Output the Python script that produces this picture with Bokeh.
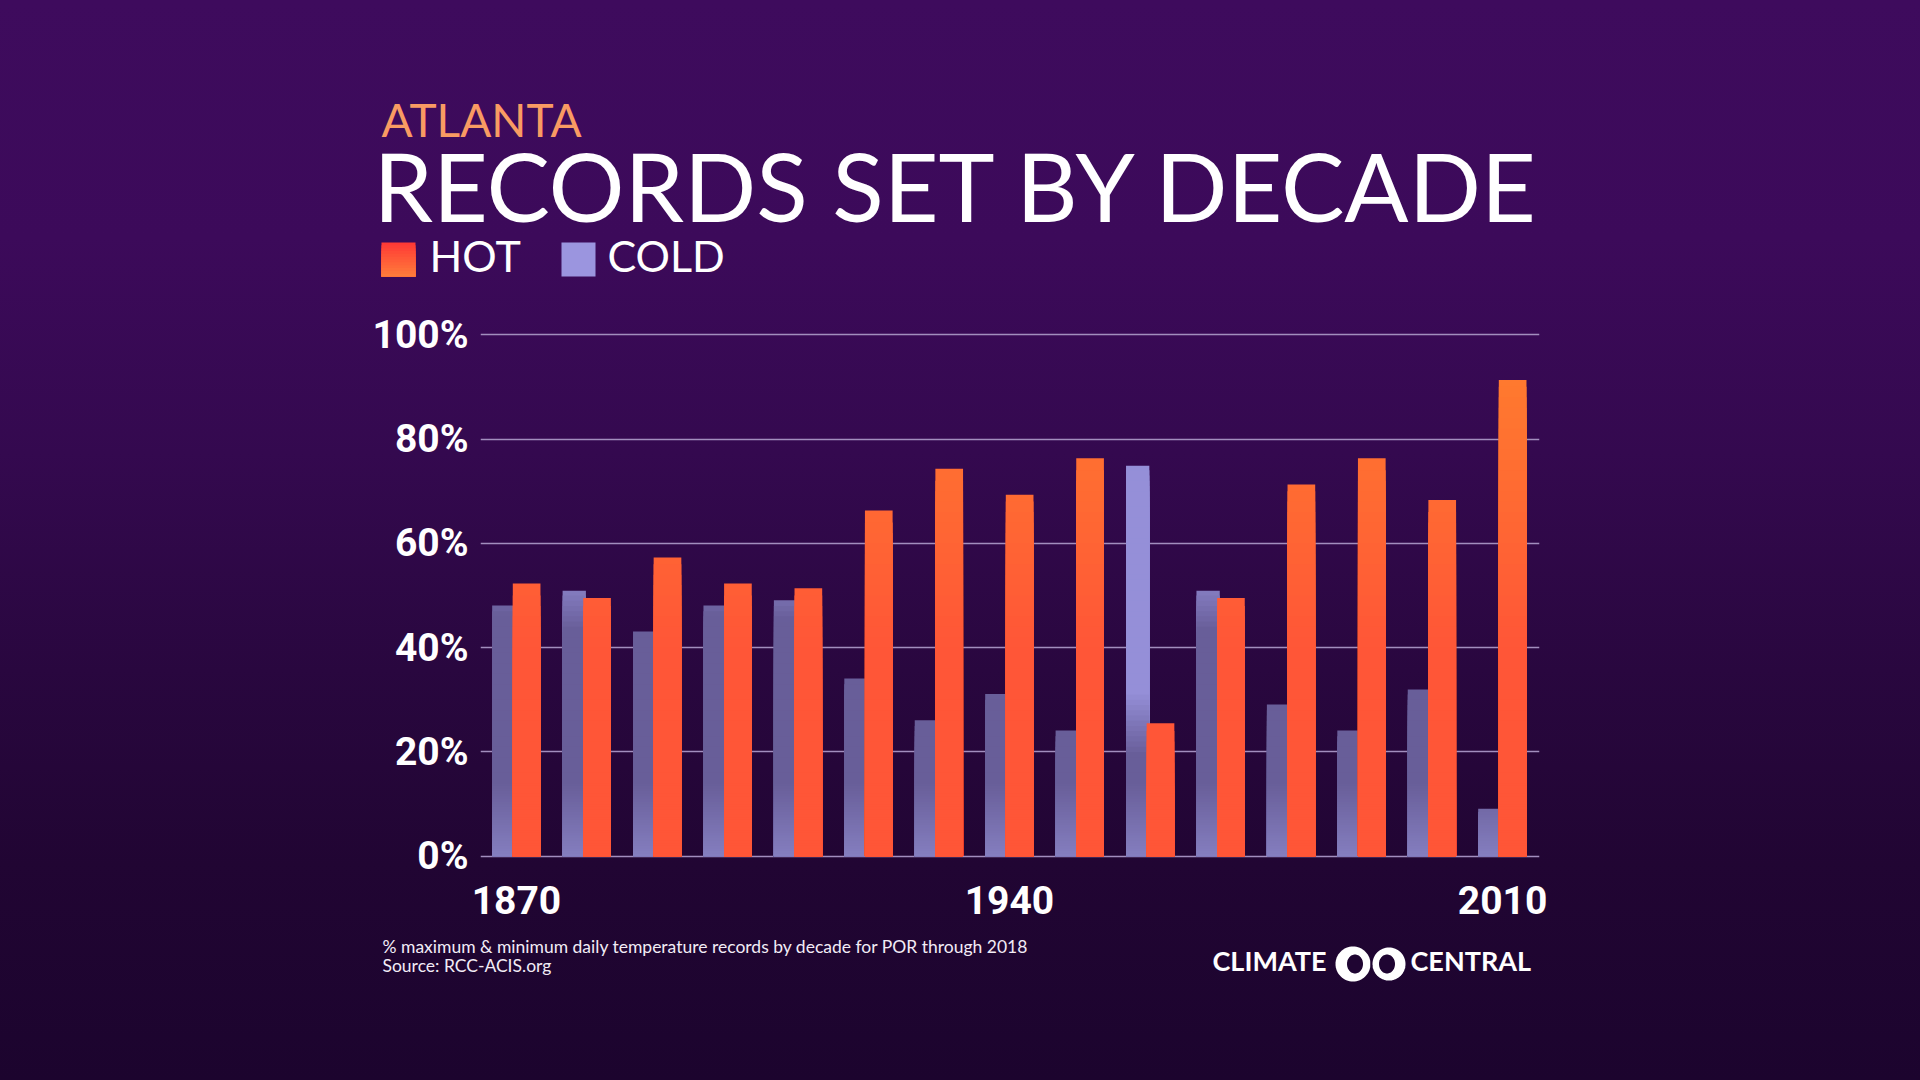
import numpy as np
from bokeh.plotting import figure
from bokeh.layouts import column
from bokeh.models import Range1d, FixedTicker, Label, BoxAnnotation, PolyAnnotation, ColumnDataSource
from bokeh.embed import file_html
from bokeh.resources import INLINE

# ---------------- data ----------------
decades = [1870, 1880, 1890, 1900, 1910, 1920, 1930, 1940, 1950, 1960, 1970, 1980, 1990, 2000, 2010]
hot_pct = [52.3, 49.5, 57.3, 52.3, 51.4, 66.3, 74.3, 69.3, 76.3, 25.5, 49.5, 71.3, 76.3, 68.3, 91.3]
cold_pct = [48.1, 50.9, 43.1, 48.1, 49.1, 34.1, 26.1, 31.1, 24.1, 74.9, 50.9, 29.1, 24.1, 32.0, 9.1]
y_ticks = [0, 20, 40, 60, 80, 100]
y_tick_labels = ["0%", "20%", "40%", "60%", "80%", "100%"]
x_ticks = [1870, 1940, 2010]
x_tick_labels = ["1870", "1940", "2010"]
city = "ATLANTA"
title = "RECORDS SET BY DECADE"
series_names = ["HOT", "COLD"]
note_lines = ["% maximum & minimum daily temperature records by decade for POR through 2018",
              "Source: RCC-ACIS.org"]
brand = ["CLIMATE", "CENTRAL"]

# ---------------- layout ----------------
W, H = 1920, 1080
HEAD_H = 300          # header strip (titles + legend)
FOOT_Y = 935          # footer strip starts here
FL, FR = 480, 1539    # chart frame, canvas px
FT, FB = 329, 861
Y0, Y1 = -1.0, 101.0
PX_PER_YR = 7.043
X0 = 1864.89
X1 = X0 + (FR - FL) / PX_PER_YR
BASE_K = 0.4          # label anchor -> baseline offset (fraction of font size)

AXIS_FONT = "Roboto"
SANS = "Lato"
GRAD = ("linear-gradient(180deg, #3E0B5D 0%, #3C0A5A 22%, #34094F 42%, "
        "#29073F 62%, #210533 80%, #1C042E 100%)")


def hx(c):
    c = c.lstrip("#")
    return np.array([int(c[i:i + 2], 16) for i in (0, 2, 4)], dtype=float)


def mix(c1, c2, t):
    t = float(np.clip(t, 0, 1))
    r = hx(c1) * (1 - t) + hx(c2) * t
    return "#%02x%02x%02x" % tuple(int(round(v)) for v in r)


def hot_color(i, y):
    return mix("#FF5637", "#FF7C2E", (y - 40) / 55)


def cold_color(i, y):
    lit = (y - hot_pct[i] + 6) / 12
    base = mix("#685E99", "#958FD8", lit)
    bot = float(np.clip(1 - y / 14, 0, 1)) * 0.85
    return mix(base, "#8A84C6", bot)


def band_tops(v, step):
    grid = list(np.arange(0.5, 14.0, 0.5)) + list(np.arange(14.0, 100.0, step))
    inner = [g for g in grid if g < v - 0.3]
    return [v] + inner[::-1]


def band_source(values, offset, color_fn, step):
    xs, tops, cols = [], [], []
    for i, (d, v) in enumerate(zip(decades, values)):
        ts = band_tops(v, step)
        for j, t in enumerate(ts):
            lower = ts[j + 1] if j + 1 < len(ts) else 0.0
            xs.append(d + offset)
            tops.append(float(t))
            cols.append(color_fn(i, (t + lower) / 2))
    return ColumnDataSource(dict(x=xs, top=tops, color=cols))


def no_align(f):
    try:
        f.frame_align = False
    except Exception:
        pass


def bare_figure(h, y_top):
    f = figure(width=W, height=h, x_range=Range1d(0, W), y_range=Range1d(y_top + h, y_top),
               output_backend="svg", toolbar_location=None, title=None,
               x_axis_location=None, y_axis_location=None,
               min_border_left=0, min_border_right=0, min_border_top=0, min_border_bottom=0)
    f.background_fill_alpha = 0
    f.border_fill_alpha = 0
    f.outline_line_color = None
    f.grid.visible = False
    no_align(f)
    return f


def text(f, x, baseline, s, size, color="#FFFFFF", style="normal"):
    f.add_layout(Label(x=x, y=baseline - BASE_K * size, text=s, text_font=SANS,
                       text_font_size="%gpx" % size, text_font_style=style,
                       text_color=color, text_baseline="alphabetic", text_align="left"))


# ---------------- header ----------------
head = bare_figure(HEAD_H, 0)
text(head, 381, 137, city, 46, "#F99B63")
text(head, 373, 222, title, 95)
SQ_T, SQ_B = 242, 276
NSTRIP = 12
for k in range(NSTRIP):
    top = SQ_T + k * (SQ_B - SQ_T) / NSTRIP
    head.add_layout(BoxAnnotation(left=381, right=415, top=top, bottom=SQ_B,
                                  fill_color=mix("#FF3A35", "#FF7B3B", k / (NSTRIP - 1)), fill_alpha=1,
                                  line_alpha=0))
head.add_layout(BoxAnnotation(left=561, right=595, top=SQ_T, bottom=SQ_B,
                              fill_color="#9B95DF", fill_alpha=1, line_alpha=0))
text(head, 429, 272, series_names[0], 43)
text(head, 607, 272, series_names[1], 43)

# ---------------- chart ----------------
CH_H = FOOT_Y - HEAD_H
p = figure(width=W, height=CH_H, x_range=Range1d(X0, X1), y_range=Range1d(Y0, Y1),
           output_backend="svg", toolbar_location=None,
           min_border_left=FL, min_border_right=W - FR,
           min_border_top=FT - HEAD_H, min_border_bottom=FOOT_Y - FB)
no_align(p)
p.background_fill_alpha = 0
p.border_fill_alpha = 0
p.outline_line_color = None
p.xgrid.visible = False
p.ygrid.ticker = FixedTicker(ticks=y_ticks)
p.ygrid.grid_line_color = "#A28EBE"
p.ygrid.grid_line_width = 1.5

HOT_OFF, HOT_W = 1.44, 3.93
COLD_OFF, COLD_W = -1.80, 3.31
cold_src = band_source(cold_pct, COLD_OFF, cold_color, 1.0)
hot_src = band_source(hot_pct, HOT_OFF, hot_color, 2.0)
p.vbar(x="x", top="top", bottom=0, width=COLD_W, source=cold_src,
       fill_color="color", line_color=None)
p.vbar(x="x", top="top", bottom=0, width=HOT_W, source=hot_src,
       fill_color="color", line_color=None)

for ax, ticks, labels, standoff in [(p.yaxis[0], y_ticks, y_tick_labels, 12),
                                    (p.xaxis[0], x_ticks, x_tick_labels, 24)]:
    ax.ticker = FixedTicker(ticks=ticks)
    ax.major_label_overrides = {t: l for t, l in zip(ticks, labels)}
    ax.axis_line_color = None
    ax.major_tick_line_color = None
    ax.minor_tick_line_color = None
    ax.major_tick_out = 0
    ax.major_tick_in = 0
    ax.major_label_standoff = standoff
    ax.major_label_text_font = AXIS_FONT
    ax.major_label_text_font_style = "bold"
    ax.major_label_text_font_size = "39px"
    ax.major_label_text_color = "#FFFFFF"

# ---------------- footer ----------------
foot = bare_figure(H - FOOT_Y, FOOT_Y)
for k, line in enumerate(note_lines):
    text(foot, 382, 953 + 19 * k, line, 17.5, "#F2ECF6")
text(foot, 1212, 971, brand[0], 27, style="bold")
text(foot, 1410, 971, brand[1], 27, style="bold")


def ellipse(cx, cy, rx, ry, n=64):
    a = np.linspace(0, 2 * np.pi, n, endpoint=False)
    return list(cx + rx * np.cos(a)), list(cy + ry * np.sin(a))


HOLE = "#1F0532"
RING_Y = 963.5
xs, ys = ellipse(1352.5, RING_Y, 17.5, 17.5)
foot.add_layout(PolyAnnotation(xs=xs, ys=ys, fill_color="#FFFFFF", fill_alpha=1, line_alpha=0))
xs, ys = ellipse(1388.5, RING_Y, 17.5, 17.5)
foot.add_layout(PolyAnnotation(xs=xs, ys=ys, fill_color="#FFFFFF", fill_alpha=1,
                               line_color=HOLE, line_width=2, line_alpha=1))
for cx in (1354.5, 1386.5):
    xs, ys = ellipse(cx, RING_Y, 8.0, 9.5)
    foot.add_layout(PolyAnnotation(xs=xs, ys=ys, fill_color=HOLE, fill_alpha=1, line_alpha=0))

page = column(head, p, foot, spacing=0)
page.styles = {"background": GRAD}

open("out.html", "w").write(file_html(page, INLINE))
